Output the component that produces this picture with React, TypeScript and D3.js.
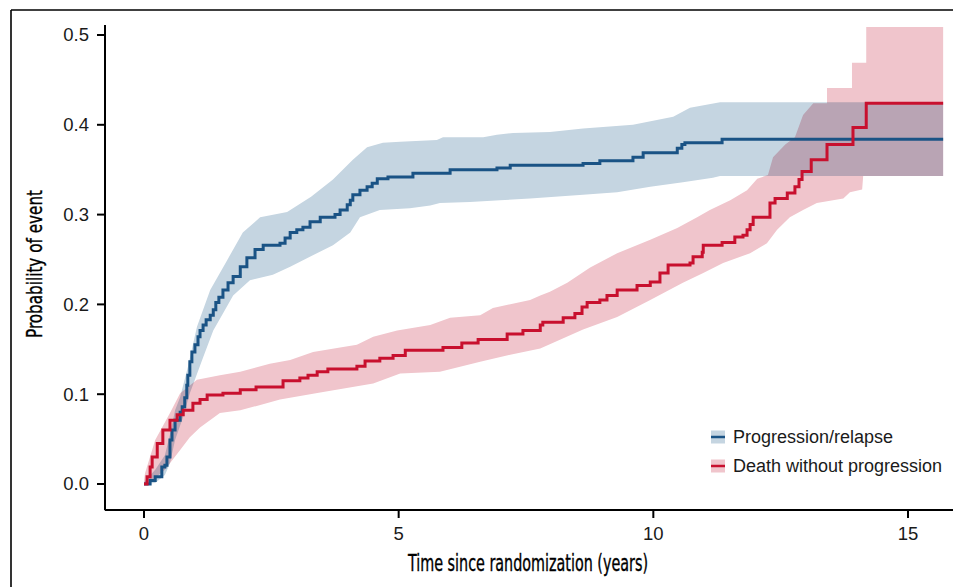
import React from 'react'
import * as d3 from 'd3'

// Cumulative incidence, progression/relapse (step knots)
const blueT = [0, 0.12, 0.22, 0.35, 0.41, 0.45, 0.51, 0.55, 0.61, 0.71, 0.75, 0.8, 0.84, 0.86, 0.9, 0.94, 1.0, 1.06, 1.1, 1.16, 1.22, 1.3, 1.36, 1.41, 1.47, 1.55, 1.65, 1.75, 1.89, 2.02, 2.18, 2.34, 2.67, 2.77, 2.87, 3.0, 3.12, 3.26, 3.46, 3.75, 3.85, 3.99, 4.05, 4.1, 4.24, 4.38, 4.48, 4.58, 4.79, 5.28, 6.01, 6.93, 7.19, 8.62, 8.95, 9.6, 9.8, 10.47, 10.56, 10.62, 11.35, 15.69]
const blueV = [0, 0.004, 0.008, 0.019, 0.021, 0.03, 0.049, 0.06, 0.071, 0.08, 0.086, 0.096, 0.11, 0.121, 0.136, 0.147, 0.155, 0.164, 0.171, 0.177, 0.183, 0.188, 0.194, 0.202, 0.208, 0.216, 0.224, 0.231, 0.242, 0.252, 0.261, 0.266, 0.268, 0.274, 0.28, 0.283, 0.286, 0.292, 0.297, 0.3, 0.305, 0.311, 0.316, 0.322, 0.327, 0.331, 0.335, 0.34, 0.342, 0.346, 0.35, 0.352, 0.355, 0.357, 0.36, 0.364, 0.369, 0.374, 0.378, 0.38, 0.384, 0.384]
const blueUpT = [0, 0.22, 0.41, 0.51, 0.61, 0.71, 0.86, 1.04, 1.3, 1.63, 1.94, 2.28, 2.81, 3.28, 3.71, 4.1, 4.38, 4.69, 5.03, 5.75, 5.87, 6.66, 6.93, 7.25, 7.97, 8.62, 9.6, 10.39, 10.72, 11.31, 15.69]
const blueUp = [0.002, 0.016, 0.032, 0.055, 0.082, 0.097, 0.13, 0.175, 0.216, 0.249, 0.28, 0.297, 0.303, 0.32, 0.339, 0.361, 0.375, 0.38, 0.381, 0.383, 0.386, 0.386, 0.389, 0.391, 0.392, 0.396, 0.4, 0.409, 0.419, 0.425, 0.425]
const blueLoT = [0, 0.22, 0.41, 0.51, 0.61, 0.77, 0.9, 1.16, 1.36, 1.55, 1.75, 2.08, 2.53, 2.87, 3.71, 4.05, 4.24, 4.63, 5.22, 5.62, 5.81, 6.4, 6.99, 7.58, 8.62, 9.29, 9.94, 10.58, 11.17, 11.31, 15.69]
const blueLo = [0, 0.001, 0.01, 0.023, 0.049, 0.075, 0.101, 0.141, 0.171, 0.19, 0.21, 0.227, 0.233, 0.242, 0.266, 0.28, 0.297, 0.305, 0.307, 0.31, 0.313, 0.314, 0.316, 0.318, 0.322, 0.325, 0.331, 0.336, 0.341, 0.343, 0.343]

// Death without progression
const redT = [0, 0.06, 0.12, 0.16, 0.26, 0.37, 0.51, 0.65, 0.77, 0.96, 1.1, 1.24, 1.55, 1.89, 2.2, 2.73, 3.06, 3.22, 3.4, 3.61, 4.18, 4.34, 4.63, 4.89, 5.13, 5.87, 6.24, 6.56, 7.13, 7.44, 7.78, 7.83, 8.23, 8.46, 8.6, 8.7, 8.95, 9.09, 9.29, 9.68, 9.94, 10.13, 10.29, 10.72, 10.78, 10.96, 10.98, 11.35, 11.6, 11.76, 11.84, 11.9, 11.96, 12.29, 12.39, 12.63, 12.78, 12.86, 12.92, 13.1, 13.41, 13.92, 14.18, 15.69]
const redV = [0, 0.008, 0.019, 0.03, 0.045, 0.06, 0.071, 0.077, 0.082, 0.09, 0.094, 0.099, 0.101, 0.105, 0.108, 0.115, 0.118, 0.121, 0.125, 0.128, 0.131, 0.137, 0.14, 0.143, 0.149, 0.152, 0.157, 0.161, 0.167, 0.171, 0.177, 0.18, 0.185, 0.19, 0.197, 0.202, 0.205, 0.21, 0.216, 0.221, 0.225, 0.235, 0.244, 0.246, 0.253, 0.258, 0.266, 0.269, 0.275, 0.277, 0.283, 0.289, 0.297, 0.313, 0.318, 0.324, 0.331, 0.339, 0.348, 0.361, 0.378, 0.397, 0.424, 0.424]
const redUpT = [0, 0.02, 0.22, 0.51, 0.71, 1.04, 1.49, 1.89, 2.47, 2.87, 3.32, 3.85, 4.18, 4.5, 4.97, 5.62, 6.01, 6.6, 6.85, 7.58, 7.78, 7.97, 8.31, 8.76, 9.29, 9.94, 10.47, 10.86, 11.11, 11.51, 11.84, 12.04, 12.25, 12.35, 12.59, 12.78, 12.94, 13.14, 13.41, 13.41, 13.9, 13.9, 14.18, 14.18, 15.69]
const redUp = [0.004, 0.012, 0.049, 0.079, 0.101, 0.116, 0.121, 0.125, 0.134, 0.138, 0.147, 0.152, 0.155, 0.164, 0.171, 0.177, 0.185, 0.188, 0.196, 0.205, 0.21, 0.214, 0.224, 0.241, 0.257, 0.272, 0.285, 0.297, 0.305, 0.316, 0.327, 0.34, 0.344, 0.364, 0.378, 0.386, 0.411, 0.424, 0.424, 0.441, 0.441, 0.469, 0.469, 0.509, 0.509]
const redLoT = [0, 0.08, 0.41, 0.71, 0.9, 1.1, 1.49, 1.89, 2.67, 3.46, 4.5, 5.03, 5.81, 6.6, 7.19, 7.78, 8.62, 9.29, 9.94, 10.58, 10.98, 11.37, 11.9, 12.23, 12.43, 12.68, 12.94, 13.21, 13.73, 13.86, 14.1, 14.12, 15.69]
const redLo = [0, 0, 0.016, 0.038, 0.052, 0.063, 0.079, 0.082, 0.094, 0.102, 0.112, 0.123, 0.125, 0.136, 0.144, 0.151, 0.172, 0.186, 0.205, 0.224, 0.235, 0.246, 0.257, 0.268, 0.283, 0.297, 0.305, 0.313, 0.318, 0.325, 0.328, 0.343, 0.343]

const xTicks = [0, 5, 10, 15]
const yTicks = [0, 0.1, 0.2, 0.3, 0.4, 0.5]
const legendLabels = ['Progression/relapse', 'Death without progression']

const W = 953
const H = 587
const blueLine = '#1a5385'
const blueBand = '#c5d5e1'
const redLine = '#c8102e'
const redBand = '#f0c5cc'
const tickFont = "'Liberation Sans', Arial, Helvetica, sans-serif"
const narrowFont = "'Liberation Sans Narrow', 'DejaVu Sans Condensed', 'Liberation Sans', sans-serif"

const x = d3.scaleLinear().domain([0, 15]).range([144, 908])
const y = d3.scaleLinear().domain([0, 0.5]).range([484, 35])
// axis lines run a little past the data on both sides
const xAxisExtent = [-0.77, 16.2]
const yAxisExtent = [-0.029, 0.511]

const zip = (ts: number[], vs: number[]): [number, number][] => ts.map((t, i) => [x(t), y(vs[i])])

const stepLine = d3.line().curve(d3.curveStepAfter)
const plainLine = d3.line()

const bandPath = (upT: number[], up: number[], loT: number[], lo: number[]) =>
  plainLine([...zip(upT, up), ...zip(loT, lo).reverse()]) + 'Z'

export default function App() {
  const series = [
    { label: legendLabels[0], line: blueLine, band: blueBand },
    { label: legendLabels[1], line: redLine, band: redBand },
  ]
  return (
    <div style={{ position: 'absolute', left: 0, top: 0 }}>
      <svg width={W} height={H} style={{ display: 'block', background: '#fff' }}>
        {/* frame from the cropped figure */}
        <line x1={11} y1={10} x2={W} y2={10} stroke="#000" strokeWidth={1.6} />
        <line x1={11} y1={10} x2={11} y2={H} stroke="#000" strokeWidth={1.6} />

        {/* confidence bands */}
        <g style={{ isolation: 'isolate' }}>
          <path d={bandPath(blueUpT, blueUp, blueLoT, blueLo)} fill={blueBand} />
          <path d={bandPath(redUpT, redUp, redLoT, redLo)} fill={redBand} style={{ mixBlendMode: 'multiply' }} />
        </g>

        <path d={stepLine(zip(blueT, blueV)) || ''} fill="none" stroke={blueLine} strokeWidth={3} />
        <path d={stepLine(zip(redT, redV)) || ''} fill="none" stroke={redLine} strokeWidth={3} />

        {/* y axis */}
        <line x1={105} x2={105} y1={y(yAxisExtent[0])} y2={y(yAxisExtent[1])} stroke="#000" strokeWidth={2} />
        {yTicks.map((t) => (
          <g key={t} transform={`translate(0,${y(t)})`}>
            <line x1={97} x2={105} stroke="#000" strokeWidth={2} />
            <text x={89} dy="0.35em" textAnchor="end" fontFamily={tickFont} fontSize={18.5} fill="#1a1a1a">
              {d3.format('.1f')(t)}
            </text>
          </g>
        ))}

        {/* x axis */}
        <line x1={x(xAxisExtent[0])} x2={x(xAxisExtent[1])} y1={510} y2={510} stroke="#000" strokeWidth={2} />
        {xTicks.map((t) => (
          <g key={t} transform={`translate(${x(t)},510)`}>
            <line y1={0} y2={8} stroke="#000" strokeWidth={2} />
            <text y={30} textAnchor="middle" fontFamily={tickFont} fontSize={18.5} fill="#1a1a1a">
              {t}
            </text>
          </g>
        ))}

        <text x={528} y={571} textAnchor="middle" fontFamily={narrowFont} fontSize={23} fill="#000"
          stroke="#000" strokeWidth={0.35} textLength={240} lengthAdjust="spacingAndGlyphs">
          Time since randomization (years)
        </text>
        <text transform="translate(42,264) rotate(-90)" textAnchor="middle" fontFamily={narrowFont} fontSize={22}
          fill="#000" stroke="#000" strokeWidth={0.35} textLength={148} lengthAdjust="spacingAndGlyphs">
          Probability of event
        </text>

        {/* legend */}
        {series.map((s, i) => (
          <g key={s.label} transform={`translate(711,${437 + i * 29})`}>
            <rect x={0} y={-6.5} width={14} height={13} fill={s.band} />
            <line x1={0} x2={14} y1={0} y2={0} stroke={s.line} strokeWidth={2.5} />
            <text x={22} dy="0.35em" fontFamily={tickFont} fontSize={18} fill="#1a1a1a">
              {s.label}
            </text>
          </g>
        ))}
      </svg>
    </div>
  )
}
